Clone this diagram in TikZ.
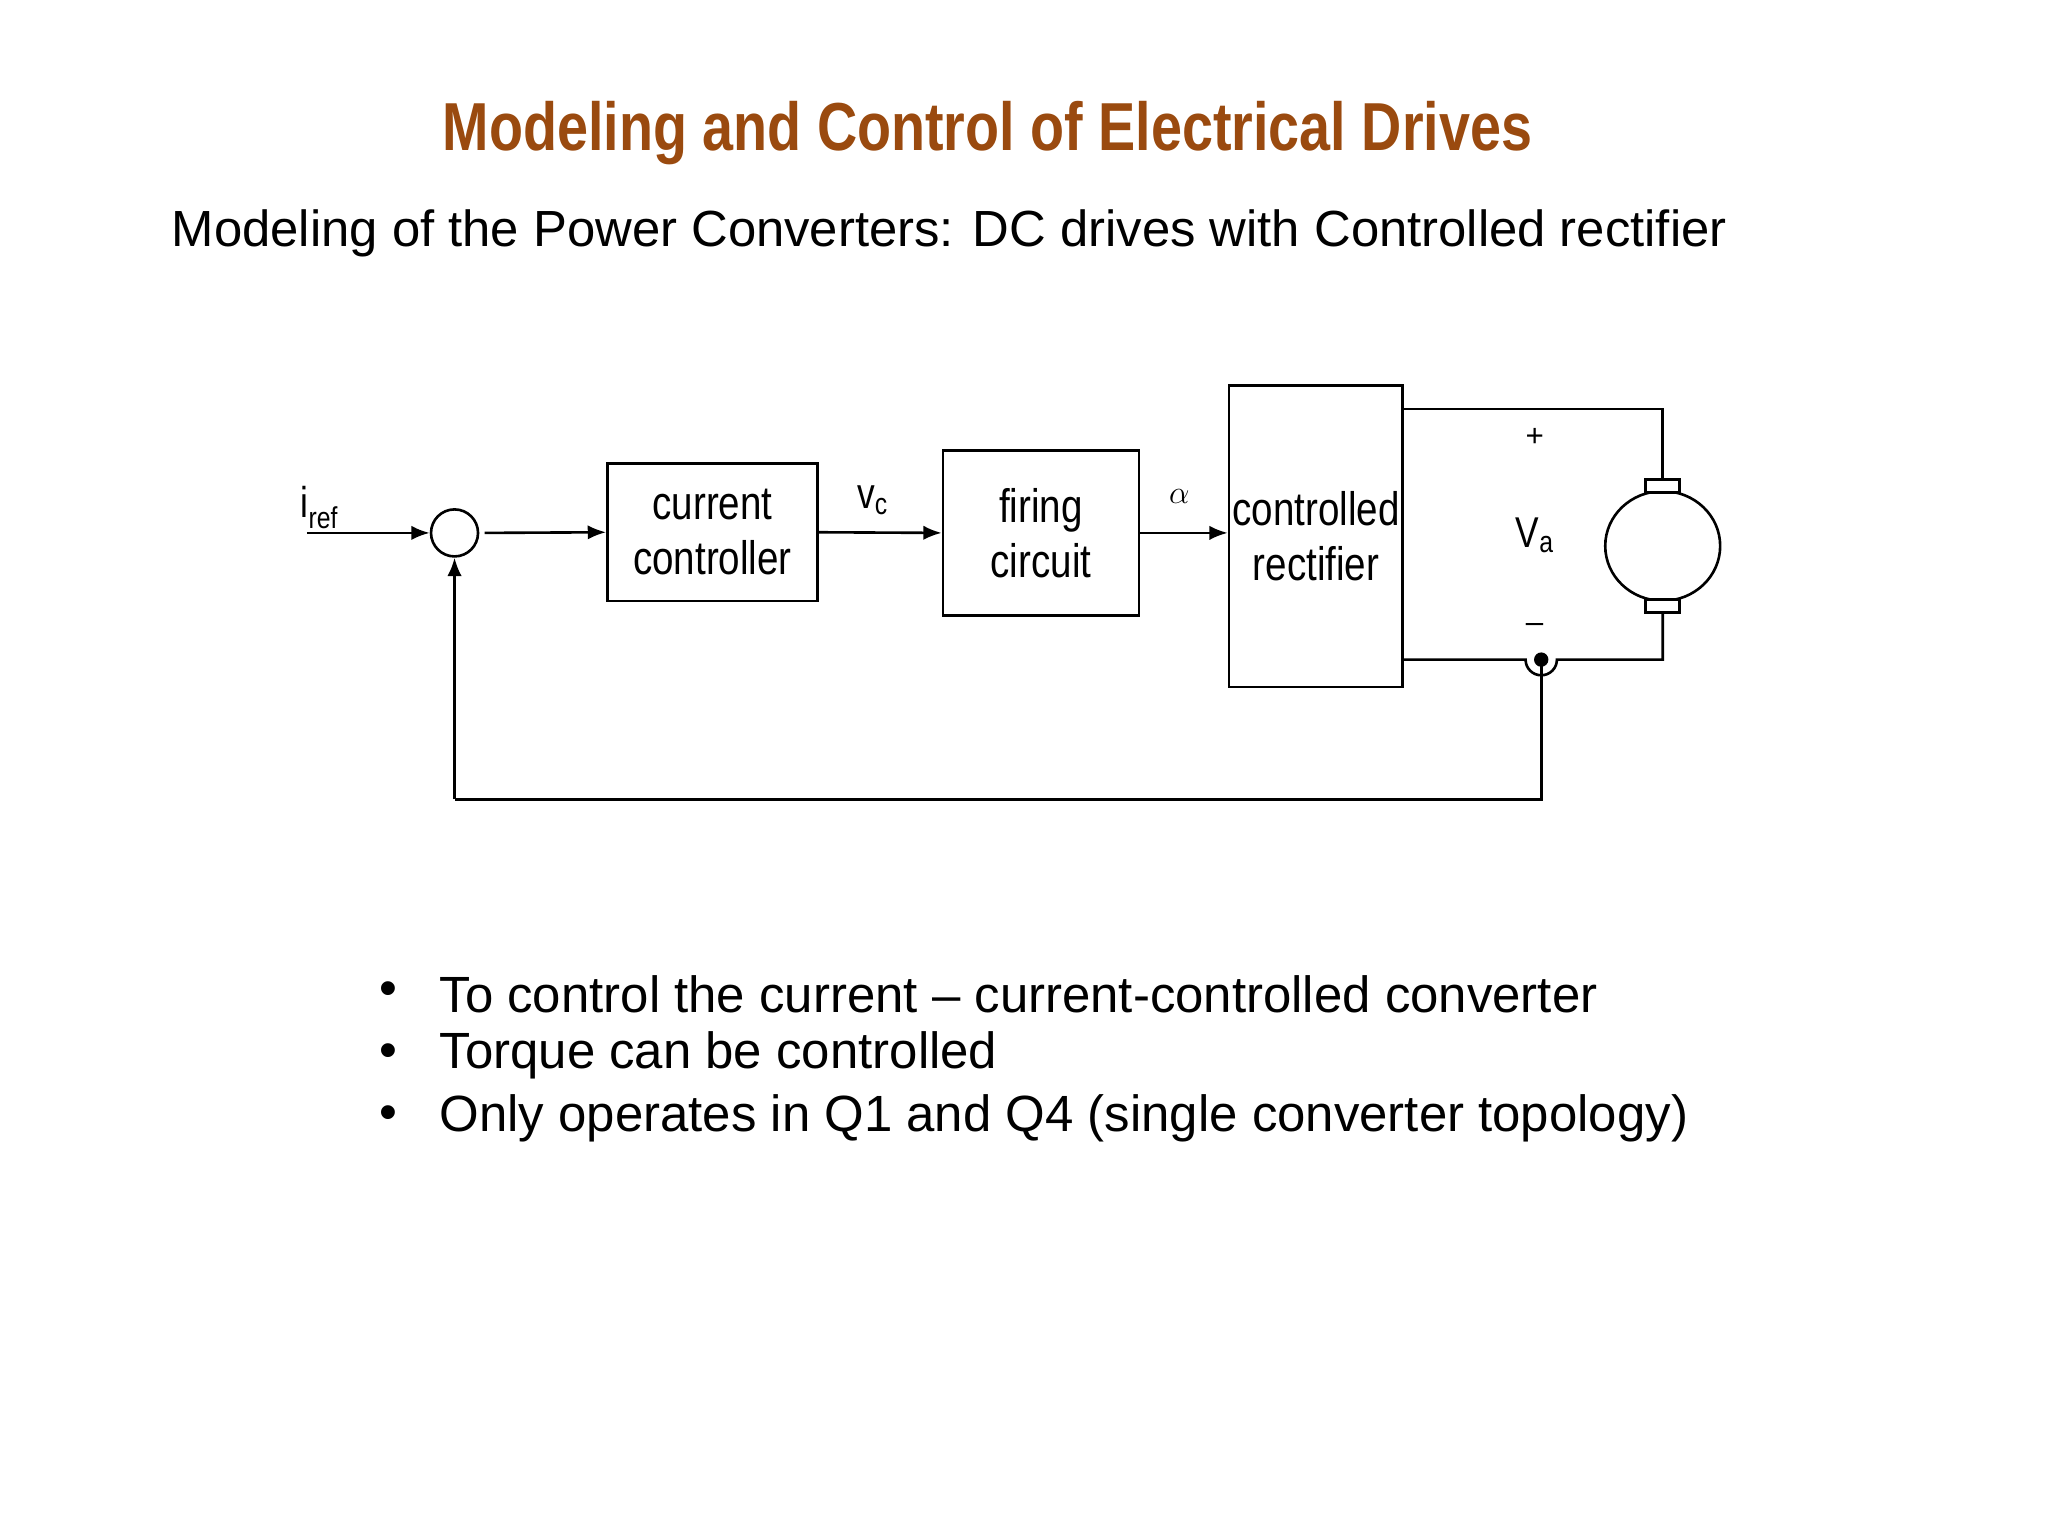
\documentclass[tikz,border=0pt]{standalone}
\usepackage{fontspec}
\setmainfont{Liberation Sans}
\newfontfamily\narrowf{Liberation Sans}[FakeStretch=0.82]
\usetikzlibrary{arrows.meta,shapes.geometric}
\definecolor{titlec}{HTML}{9A4A0F}
\begin{document}
\begin{tikzpicture}[x=1pt,y=-1pt,
  blk/.style={draw,line width=2pt,inner sep=0pt,font=\narrowf\fontsize{36}{42}\selectfont,align=center},
  w/.style={line width=2pt},
  ar/.style={w,-{Latex[length=14pt,width=11pt]}},
  lbl/.style={font=\narrowf\fontsize{33}{36}\selectfont}]
\useasboundingbox[fill=white] (0,0) rectangle (1568,1176);
\node[font=\narrowf\bfseries\fontsize{52}{58}\selectfont,text=titlec] (title) at (756,102) {Modeling and Control of Electrical Drives};
\node[anchor=west,font=\fontsize{38.9}{44}\selectfont] (sub) at (128,179) {Modeling of the Power Converters: DC drives with Controlled rectifier};
% blocks
\node[blk,minimum width=161pt,minimum height=105pt] (cc) at (545.5,407.5) {current\\controller};
\node[blk,minimum width=150pt,minimum height=126pt] (fc) at (797,408) {firing\\circuit};
\node[blk,minimum width=133pt,minimum height=231pt] (cr) at (1007.5,410.5) {controlled\\rectifier};
\node[draw,w,circle,minimum size=36pt,inner sep=0pt] (sum) at (348,408) {};
\coordinate (in) at (235,408);
\node[lbl,anchor=south west,inner sep=0pt] (iref) at (230,405) {i\textsubscript{ref}};
\draw[ar] (in) -- (sum);
\draw[ar] (sum.east) ++(4,0) -- (cc.west);
\draw[ar] (cc.east) -- (fc.west);
\draw[ar] (fc.east) -- (cr.west|-fc.east);
\node[lbl] (vc) at (668,383) {v\textsubscript{c}};
\node[font=\fontsize{34}{36}\selectfont] (al) at (903,380) {$\alpha$};
% motor
\node[draw,w,ellipse,minimum width=88pt,minimum height=84pt,inner sep=0pt] (mot) at (1273,418) {};
\node[draw,w,fill=white,minimum width=26pt,minimum height=10pt,inner sep=0pt] (b1) at (1273,372) {};
\node[draw,w,fill=white,minimum width=26pt,minimum height=10pt,inner sep=0pt] (b2) at (1273,464) {};
\coordinate (tr) at (1273,313);
\coordinate (br) at (1273,505);
\coordinate (s) at (1180,505);
\draw[w] (cr.east|-tr) -- (tr) -- (b1.north);
\draw[w] (cr.east|-s) -- (1168,505) arc (180:0:12) -- (br) -- (b2.south);
\fill (s) circle (5.5);
\node[font=\fontsize{24}{28}\selectfont] (plus) at (1175,335) {+};
\node[lbl] (va) at (1175,410) {V\textsubscript{a}};
\node[font=\fontsize{24}{28}\selectfont] (minus) at (1175,481) {--};
% feedback
\coordinate (fb1) at (1180,612);
\coordinate (fb2) at (348,612);
\draw[w] (s) -- (fb1) -- (fb2);
\draw[ar] (fb2) -- (sum.south);
% bullets
\begin{scope}[font=\fontsize{39}{44}\selectfont]
\node (d1) at (297,761) {•};
\node (d2) at (297,808) {•};
\node (d3) at (297,856) {•};
\node[anchor=west] (t1) at (333,761) {To control the current -- current-controlled converter};
\node[anchor=west] (t2) at (333,808) {Torque can be controlled};
\node[anchor=west] (t3) at (333,856) {Only operates in Q1 and Q4 (single converter topology)};
\end{scope}
\end{tikzpicture}
\end{document}
